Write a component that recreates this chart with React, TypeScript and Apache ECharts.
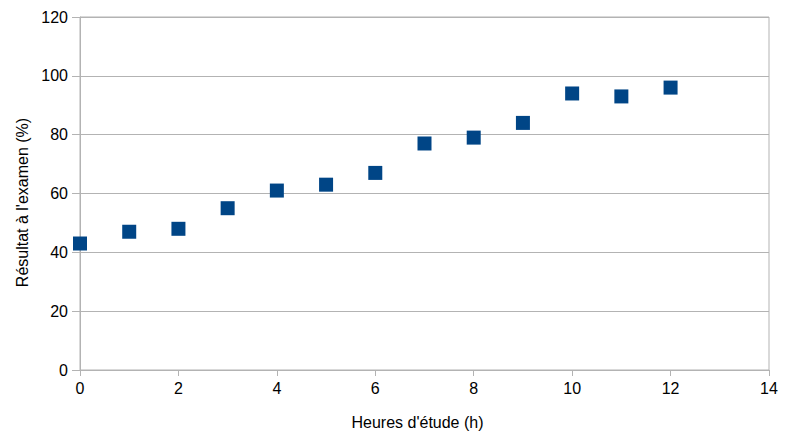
import React, { useEffect, useRef } from "react";
import * as echarts from "echarts";

const studyHours = [0, 1, 2, 3, 4, 5, 6, 7, 8, 9, 10, 11, 12];
const examScores = [43, 47, 48, 55, 61, 63, 67, 77, 79, 84, 94, 93, 96];
const xAxisTitle = "Heures d'étude (h)";
const yAxisTitle = "Résultat à l'examen (%)";

export default function App() {
  const ref = useRef<HTMLDivElement>(null);
  useEffect(() => {
    if (!ref.current) return;
    const chart = echarts.init(ref.current, undefined, { renderer: "svg" });
    const font = "'Liberation Sans', Arial, sans-serif";
    chart.setOption({
      animation: false,
      backgroundColor: "#ffffff",
      grid: {
        left: 80,
        right: 22,
        top: 17,
        bottom: 69,
        show: true,
        borderColor: "#b3b3b3",
        borderWidth: 1,
      },
      xAxis: {
        type: "value",
        min: 0,
        max: 14,
        interval: 2,
        name: xAxisTitle,
        nameLocation: "middle",
        nameGap: 44,
        nameTextStyle: { fontFamily: font, fontSize: 16, color: "#000", padding: [0, 14, 0, 0] },
        axisLine: { show: true, lineStyle: { color: "#b3b3b3" } },
        axisTick: { show: true, length: 6, lineStyle: { color: "#b3b3b3" } },
        axisLabel: { fontFamily: font, fontSize: 16, color: "#000", margin: 10 },
        splitLine: { show: false },
      },
      yAxis: {
        type: "value",
        min: 0,
        max: 120,
        interval: 20,
        name: yAxisTitle,
        nameLocation: "middle",
        nameGap: 50,
        nameTextStyle: { fontFamily: font, fontSize: 16, color: "#000", padding: [0, 18, 0, 0] },
        axisLine: { show: true, lineStyle: { color: "#b3b3b3" } },
        axisTick: { show: true, length: 8, lineStyle: { color: "#b3b3b3" } },
        axisLabel: { fontFamily: font, fontSize: 16, color: "#000", margin: 12 },
        splitLine: { show: true, lineStyle: { color: "#b3b3b3" } },
      },
      series: [
        {
          type: "scatter",
          symbol: "rect",
          symbolSize: 14,
          itemStyle: { color: "#004586", opacity: 1 },
          data: studyHours.map((h, i) => [h, examScores[i]]),
        },
      ],
    });
    return () => chart.dispose();
  }, []);
  return <div ref={ref} style={{ width: 791, height: 439, position: "absolute", left: 0, top: 0 }} />;
}
